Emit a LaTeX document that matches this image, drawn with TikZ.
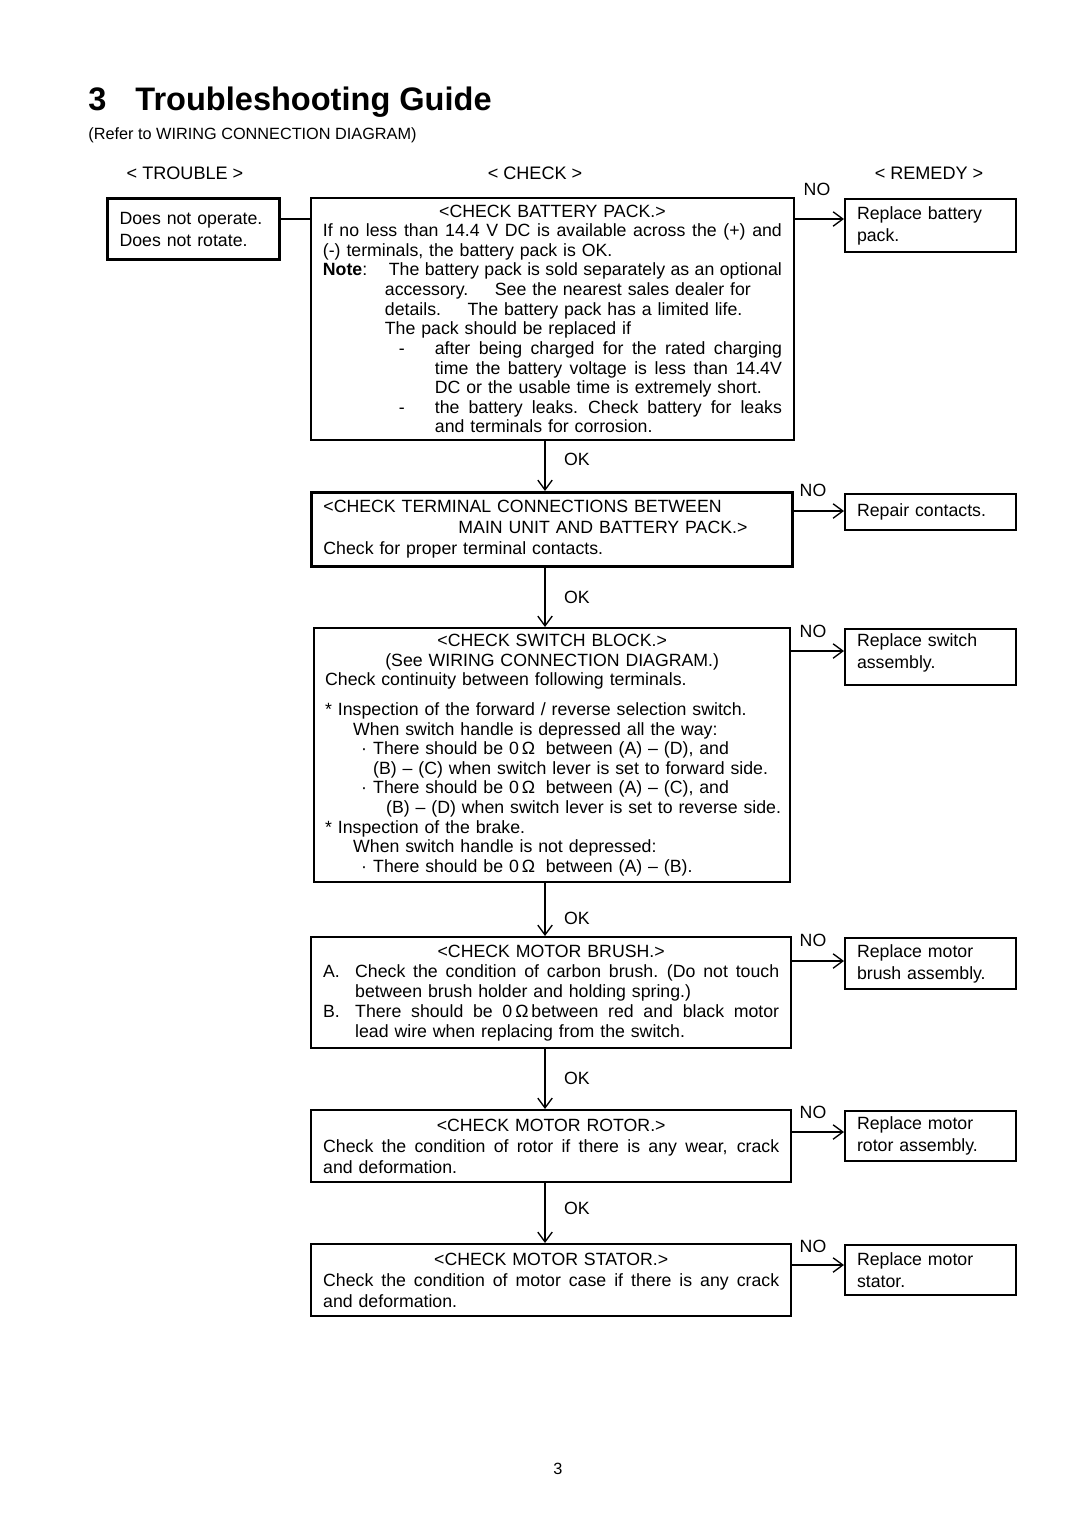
\documentclass[tikz,border=0pt]{standalone}
\usepackage{fontspec}
\setmainfont{Liberation Sans}
\usetikzlibrary{
    positioning,
    calc,
    arrows.meta
    }

\newlength{\pxu}
\setlength{\pxu}{0.019444cm}
\newcommand{\ctr}[1]{\makebox[\linewidth]{#1}}
\newcommand{\jline}[2][0]{\leavevmode\hspace*{#1\pxu}\makebox[\dimexpr\linewidth-#1\pxu\relax][s]{%
    \spaceskip=.278em plus 2em minus .12em\xspaceskip=.33em plus 2em minus .12em #2}}
\newcommand{\iline}[2]{\leavevmode\hspace*{#1\pxu}\mbox{#2}}
\newcommand{\lbl}[1]{\leavevmode\rlap{#1}}

\begin{document}
\begin{tikzpicture}[x=\pxu, y=-\pxu]
\tikzset{checkbox/.style =
        {
            draw,
            line width=1.3pt,
            anchor=north west,
            inner xsep=12\pxu,
            inner ysep=0pt,
            align=left,
            font=\fontsize{9.8pt}{10.85pt}\selectfont
        }
}

\tikzset{remedy/.style =
        {
            draw,
            line width=1.1pt,
            anchor=north west,
            minimum width=171\pxu,
            text width=147\pxu,
            inner xsep=12\pxu,
            inner ysep=0pt,
            align=left,
            font=\fontsize{9.8pt}{12.2pt}\selectfont
        }
}

\tikzset{tag/.style =
        {
            inner sep=0pt,
            font=\fontsize{9.8pt}{12pt}\selectfont
        }
}

\tikzset{flow/.style = {
            line width=0.75pt,
            -{Straight Barb[length=1.9mm, width=2.8mm]}
        }
}

\tikzset{link/.style = { line width=0.75pt } }

		\path [use as bounding box, fill=white] (0,0) rectangle (1080,1528);

		\node [anchor=base west, inner sep=0pt, font=\fontsize{18pt}{20pt}\selectfont\bfseries] (title) at (88,110)
			{3\hspace{29\pxu}Troubleshooting Guide};
		\node [anchor=base west, inner sep=0pt, font=\fontsize{9pt}{10pt}\selectfont] (subtitle) at (88,139)
			{(Refer to WIRING CONNECTION DIAGRAM)};

		\foreach \name / \nx / \txt in
			{trouble/185/TROUBLE,
				check/535/CHECK,
				remedy/929/REMEDY}
		\node [tag, font=\fontsize{10pt}{12pt}\selectfont] (head-\name) at (\nx,173) {< \txt\ >};

		\node [checkbox, remedy, line width=1.7pt, minimum width=172\pxu, minimum height=61\pxu, text width=148\pxu, font=\fontsize{9.8pt}{12.2pt}\selectfont] (tb) at (106,197)
			{Does not operate.\\Does not rotate.};

		\node [checkbox, line width=1pt, minimum width=483\pxu, minimum height=242\pxu, text width=459\pxu] (b1) at (310,197)
			{\ctr{<CHECK BATTERY PACK.>}\\
			\jline{If no less than 14.4 V DC is available across the (+) and}\\
			\iline{0}{(-) terminals, the battery pack is OK.}\\
			\lbl{\textbf{Note}:}\jline[66]{The battery pack is sold separately as an optional}\\
			\iline{62}{accessory.\hspace{1em} See the nearest sales dealer for}\\
			\iline{62}{details.\hspace{1em} The battery pack has a limited life.}\\
			\iline{62}{The pack should be replaced if}\\
			\lbl{\hspace*{76\pxu}-}\jline[112]{after being charged for the rated charging}\\
			\jline[112]{time the battery voltage is less than 14.4V}\\
			\iline{112}{DC or the usable time is extremely short.}\\
			\lbl{\hspace*{76\pxu}-}\jline[112]{the battery leaks. Check battery for leaks}\\
			\iline{112}{and terminals for corrosion.}};

		\node [checkbox, line width=1.6pt, minimum width=481\pxu, minimum height=74\pxu, text width=457\pxu, font=\fontsize{9.8pt}{11.6pt}\selectfont] (b2) at (310,491)
			{\iline{0}{<CHECK TERMINAL CONNECTIONS BETWEEN}\\
			\iline{135}{MAIN UNIT AND BATTERY PACK.>}\\
			\iline{0}{Check for proper terminal contacts.}};

		\node [checkbox, inner xsep=11\pxu, minimum width=476\pxu, minimum height=254\pxu, text width=454\pxu] (b3) at (313,627)
			{\ctr{<CHECK SWITCH BLOCK.>}\\
			\ctr{(See WIRING CONNECTION DIAGRAM.)}\\
			\iline{0}{Check continuity between following terminals.}\\[5.5pt]
			\iline{0}{* Inspection of the forward / reverse selection switch.}\\
			\iline{28}{When switch handle is depressed all the way:}\\
			\iline{36}{\makebox[12\pxu][l]{·}There should be 0\,Ω\hspace{0.6em}between (A) – (D), and}\\
			\iline{48}{(B) – (C) when switch lever is set to forward side.}\\
			\iline{36}{\makebox[12\pxu][l]{·}There should be 0\,Ω\hspace{0.6em}between (A) – (C), and}\\
			\iline{61}{(B) – (D) when switch lever is set to reverse side.}\\
			\iline{0}{* Inspection of the brake.}\\
			\iline{28}{When switch handle is not depressed:}\\
			\iline{36}{\makebox[12\pxu][l]{·}There should be 0\,Ω\hspace{0.6em}between (A) – (B).}};

		\node [checkbox, minimum width=480\pxu, minimum height=111\pxu, text width=456\pxu, font=\fontsize{9.8pt}{11.07pt}\selectfont] (b4) at (310,936)
			{\ctr{<CHECK MOTOR BRUSH.>}\\
			\lbl{A.}\jline[32]{Check the condition of carbon brush. (Do not touch}\\
			\iline{32}{between brush holder and holding spring.)}\\
			\lbl{B.}\jline[32]{There should be 0\,Ω\,between red and black motor}\\
			\iline{32}{lead wire when replacing from the switch.}};

		\node [checkbox, minimum width=480\pxu, minimum height=72\pxu, text width=456\pxu, font=\fontsize{9.8pt}{11.6pt}\selectfont] (b5) at (310,1109)
			{\ctr{<CHECK MOTOR ROTOR.>}\\
			\jline{Check the condition of rotor if there is any wear, crack}\\
			\iline{0}{and deformation.}};

		\node [checkbox, minimum width=480\pxu, minimum height=72\pxu, text width=456\pxu, font=\fontsize{9.8pt}{11.6pt}\selectfont] (b6) at (310,1243)
			{\ctr{<CHECK MOTOR STATOR.>}\\
			\jline{Check the condition of motor case if there is any crack}\\
			\iline{0}{and deformation.}};

		\node [remedy, minimum height=53\pxu] (r1) at (844,198) {Replace battery\\pack.};
		\node [remedy, minimum height=36\pxu] (r2) at (844,493) {Repair contacts.};
		\node [remedy, minimum width=169\pxu, minimum height=56\pxu] (r3) at (844,628) {Replace switch\\assembly.\\[-6pt]\mbox{}};
		\node [remedy, minimum height=51\pxu] (r4) at (844,937) {Replace motor\\brush assembly.};
		\node [remedy, minimum height=50\pxu] (r5) at (844,1110) {Replace motor\\rotor assembly.};
		\node [remedy, minimum height=50\pxu] (r6) at (844,1244) {Replace motor\\stator.};

		\draw [link] ($(tb.north east)+(0,22)$) coordinate (tb-out) -- (tb-out -| b1.west);

		\coordinate (spine) at (545,0);
		\foreach \from / \to in
			{b1/b2,
				b2/b3,
				b3/b4,
				b4/b5,
				b5/b6}
			\draw [flow] (\from.south -| spine) -- (\to.north -| spine);

		\foreach \from / \to / \dy in
			{b1/r1/22,
				b2/r2/20,
				b3/r3/24,
				b4/r4/25,
				b5/r5/23,
				b6/r6/22}
			\draw [flow] ($(\from.north east)+(0,\dy)$) coordinate (\from-no) -- (\from-no -| \to.west);

		\foreach \i / \nx / \ny in
			{1/817/189,
				2/813/490,
				3/813/631,
				4/813/940,
				5/813/1112,
				6/813/1246}
			\node [tag] (no-\i) at (\nx,\ny) {NO};

		\foreach \i / \ny in
			{1/459,
				2/597,
				3/918,
				4/1078,
				5/1208}
			\node [tag] (ok-\i) at (577,\ny) {OK};

		\node [tag, font=\fontsize{9pt}{10pt}\selectfont] (page) at (558,1469) {3};

	\end{tikzpicture}
\end{document}
